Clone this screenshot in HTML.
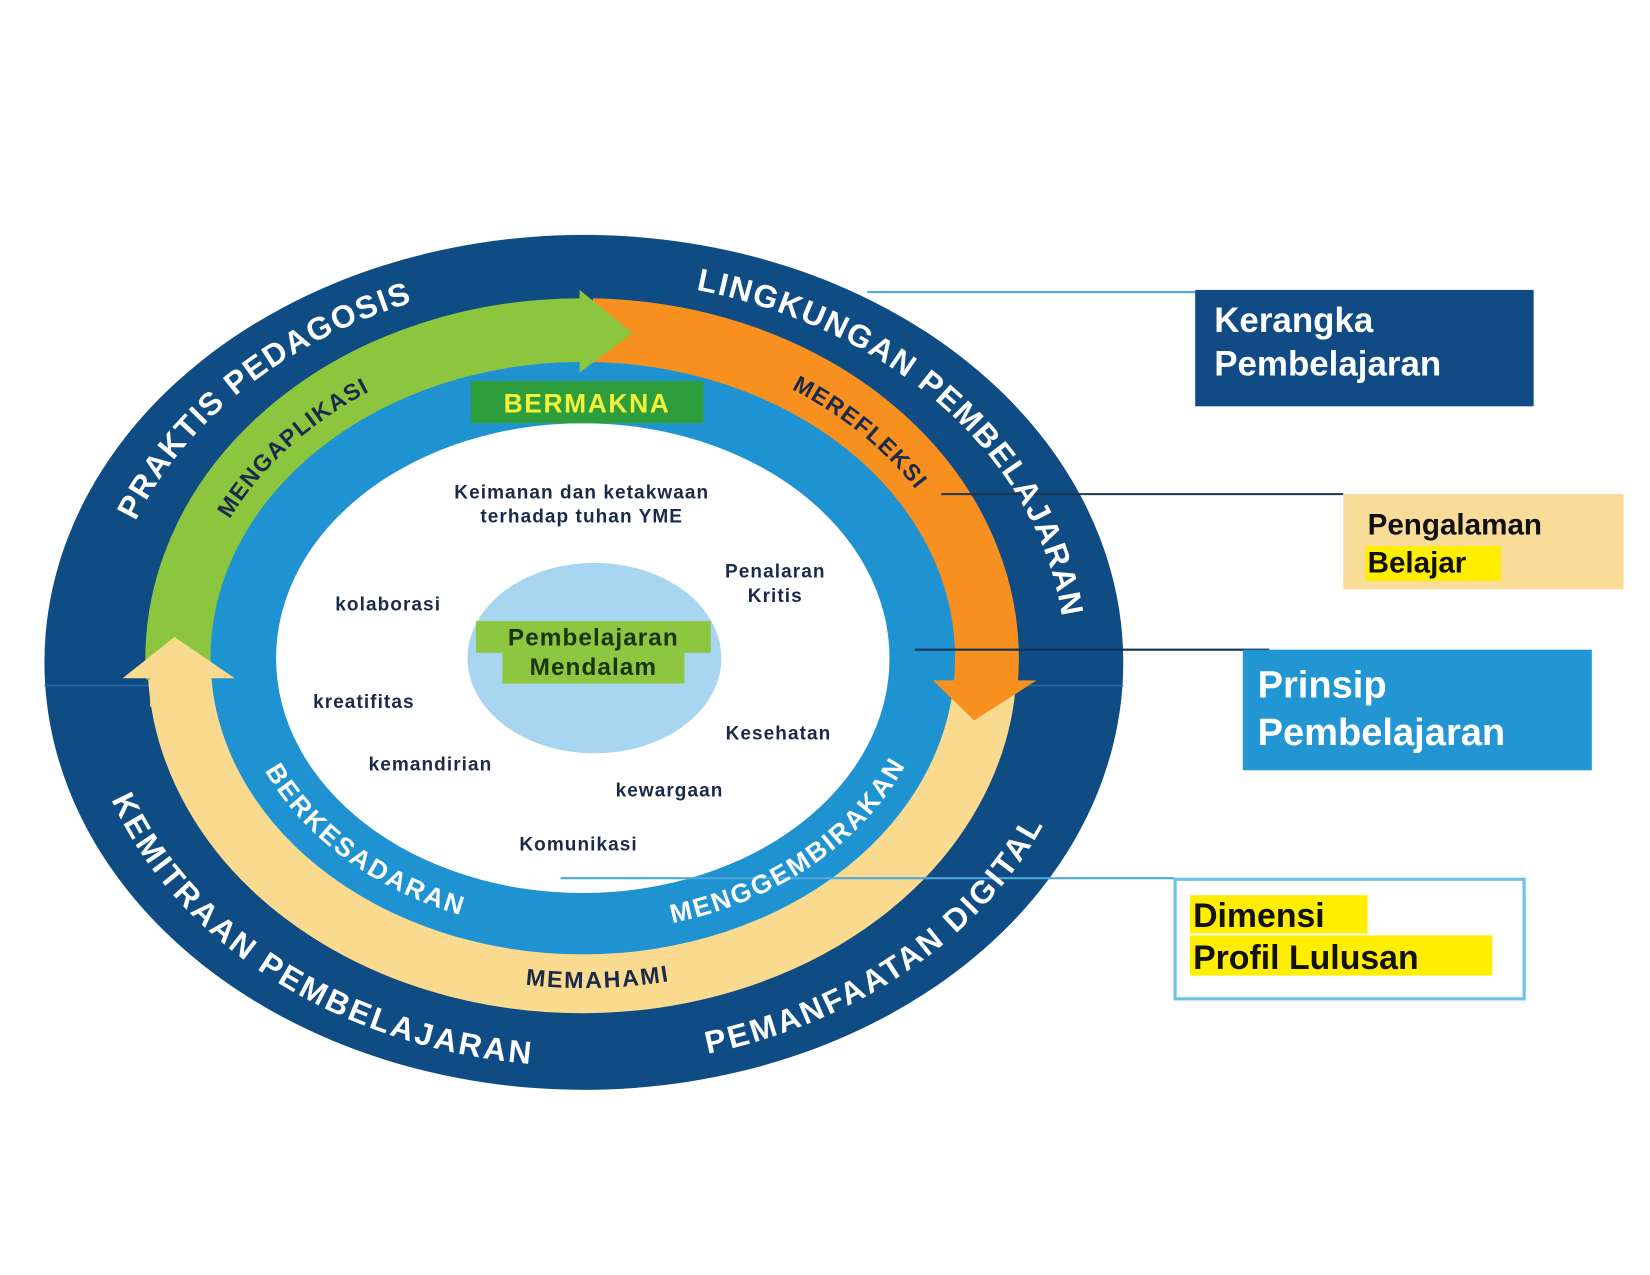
<!DOCTYPE html>
<html><head><meta charset="utf-8"><style>
html,body{margin:0;padding:0;background:#fff;}
svg{display:block;}
text{font-family:"Liberation Sans","DejaVu Sans",sans-serif;font-weight:bold;}
</style></head><body>
<svg width="1650" height="1275" viewBox="0 0 1560 1205" preserveAspectRatio="none" xmlns="http://www.w3.org/2000/svg">
<defs>
<path id="p1" d="M 88 600 A 465 372 0 0 1 503 254"/>
<path id="p2" d="M 552 254 A 465 372 0 0 1 1010 691"/>
<path id="p3" d="M 87 626 A 465 372 0 0 0 633 992"/>
<path id="p4" d="M 495 995 A 465 372 0 0 0 1016 607"/>
<path id="a1" d="M 178 565 A 380 310 0 0 1 426 331"/>
<path id="a2" d="M 656 326 A 380 310 0 0 1 920 549"/>
<path id="a3" d="M 373 890 A 380 300 0 0 0 755 880"/>
<path id="b1" d="M 243 691 A 321 250 0 0 0 474 865"/>
<path id="b2" d="M 591 870 A 321 250 0 0 0 865 678"/>
</defs>
<rect width="1560" height="1205" fill="#fff"/>
<ellipse cx="552" cy="626" rx="510" ry="404" fill="#0f4c84"/>
<line x1="42" y1="648" x2="1062" y2="648" stroke="#2a6aa8" stroke-width="1.5"/>
<path d="M 928 640 A 378 300 0 0 1 173 640" fill="none" stroke="#f9da8f" stroke-width="66"/>
<path d="M 171 640 A 378 308 0 0 1 555 315" fill="none" stroke="#8cc63f" stroke-width="66"/>
<path d="M 560 315 A 378 308 0 0 1 929 648" fill="none" stroke="#f7901e" stroke-width="66"/>
<ellipse cx="551" cy="622" rx="352" ry="280" fill="#1f93d2"/>
<ellipse cx="551" cy="622" rx="290" ry="222" fill="#fff"/>
<polygon points="548,274 598,315 548,352" fill="#8cc63f"/>
<polygon points="116,641 165,602 222,641" fill="#f9da8f"/>
<rect x="142" y="638" width="58" height="30" fill="#f9da8f"/>
<polygon points="882,643 980,643 921,681" fill="#f7901e"/>
<ellipse cx="562" cy="622" rx="120" ry="90" fill="#a8d5ef"/>
<line x1="820" y1="276" x2="1130" y2="276" stroke="#4fa8dc" stroke-width="2"/>
<line x1="890" y1="467" x2="1270" y2="467" stroke="#1d3550" stroke-width="2"/>
<line x1="865" y1="614" x2="1200" y2="614" stroke="#0f3256" stroke-width="2"/>
<line x1="530" y1="830" x2="1110" y2="830" stroke="#4fa8dc" stroke-width="2"/>
<g fill="#fff" font-size="30" letter-spacing="2">
<text dy="10"><textPath href="#p1" startOffset="50%" text-anchor="middle">PRAKTIS PEDAGOSIS</textPath></text>
<text dy="10"><textPath href="#p2" startOffset="50%" text-anchor="middle">LINGKUNGAN PEMBELAJARAN</textPath></text>
<text dy="10"><textPath href="#p3" startOffset="50%" text-anchor="middle">KEMITRAAN PEMBELAJARAN</textPath></text>
<text dy="10"><textPath href="#p4" startOffset="50%" text-anchor="middle">PEMANFAATAN DIGITAL</textPath></text>
</g>
<g fill="#1b2a4a" font-size="22" letter-spacing="1.5">
<text dy="8"><textPath href="#a1" startOffset="50%" text-anchor="middle">MENGAPLIKASI</textPath></text>
<text dy="8"><textPath href="#a2" startOffset="50%" text-anchor="middle">MEREFLEKSI</textPath></text>
<text dy="8"><textPath href="#a3" startOffset="50%" text-anchor="middle">MEMAHAMI</textPath></text>
</g>
<g fill="#fff" font-size="25" letter-spacing="1.5">
<text dy="9"><textPath href="#b1" startOffset="50%" text-anchor="middle">BERKESADARAN</textPath></text>
<text dy="9"><textPath href="#b2" startOffset="50%" text-anchor="middle">MENGGEMBIRAKAN</textPath></text>
</g>
<rect x="445" y="360" width="220" height="40" fill="#2e9e3c"/>
<text x="555" y="390" text-anchor="middle" font-size="25" fill="#f2f23a" letter-spacing="1.5">BERMAKNA</text>
<g fill="#1b2a4a" font-size="18" letter-spacing="1" text-anchor="middle">
<text x="550" y="471">Keimanan dan ketakwaan</text>
<text x="550" y="494">terhadap tuhan YME</text>
<text x="733" y="546">Penalaran</text>
<text x="733" y="569">Kritis</text>
<text x="367" y="577">kolaborasi</text>
<text x="344" y="669">kreatifitas</text>
<text x="736" y="699">Kesehatan</text>
<text x="407" y="728">kemandirian</text>
<text x="633" y="753">kewargaan</text>
<text x="547" y="804">Komunikasi</text>
</g>
<rect x="450" y="587" width="222" height="30" fill="#8dc63f"/>
<rect x="475" y="617" width="172" height="29" fill="#8dc63f"/>
<g fill="#1a3410" font-size="23" letter-spacing="1" text-anchor="middle">
<text x="561" y="610">Pembelajaran</text>
<text x="561" y="638">Mendalam</text>
</g>
<rect x="1130" y="274" width="320" height="110" fill="#104b85"/>
<g fill="#fff" font-size="33"><text x="1148" y="314">Kerangka</text><text x="1148" y="355">Pembelajaran</text></g>
<rect x="1270" y="467" width="265" height="90" fill="#f9dc98"/>
<rect x="1291" y="516" width="128" height="33" fill="#ffee00"/>
<g fill="#111" font-size="28"><text x="1293" y="505">Pengalaman</text><text x="1293" y="541">Belajar</text></g>
<rect x="1175" y="614" width="330" height="114" fill="#2196d3"/>
<g fill="#fff" font-size="36"><text x="1189" y="659">Prinsip</text><text x="1189" y="704">Pembelajaran</text></g>
<rect x="1111" y="831" width="330" height="113" fill="#fff" stroke="#6cc3e8" stroke-width="3"/>
<rect x="1125" y="846" width="168" height="36" fill="#ffee00"/>
<rect x="1125" y="884" width="286" height="38" fill="#ffee00"/>
<g fill="#111" font-size="32"><text x="1128" y="876">Dimensi</text><text x="1128" y="916">Profil Lulusan</text></g>
</svg>
</body></html>
